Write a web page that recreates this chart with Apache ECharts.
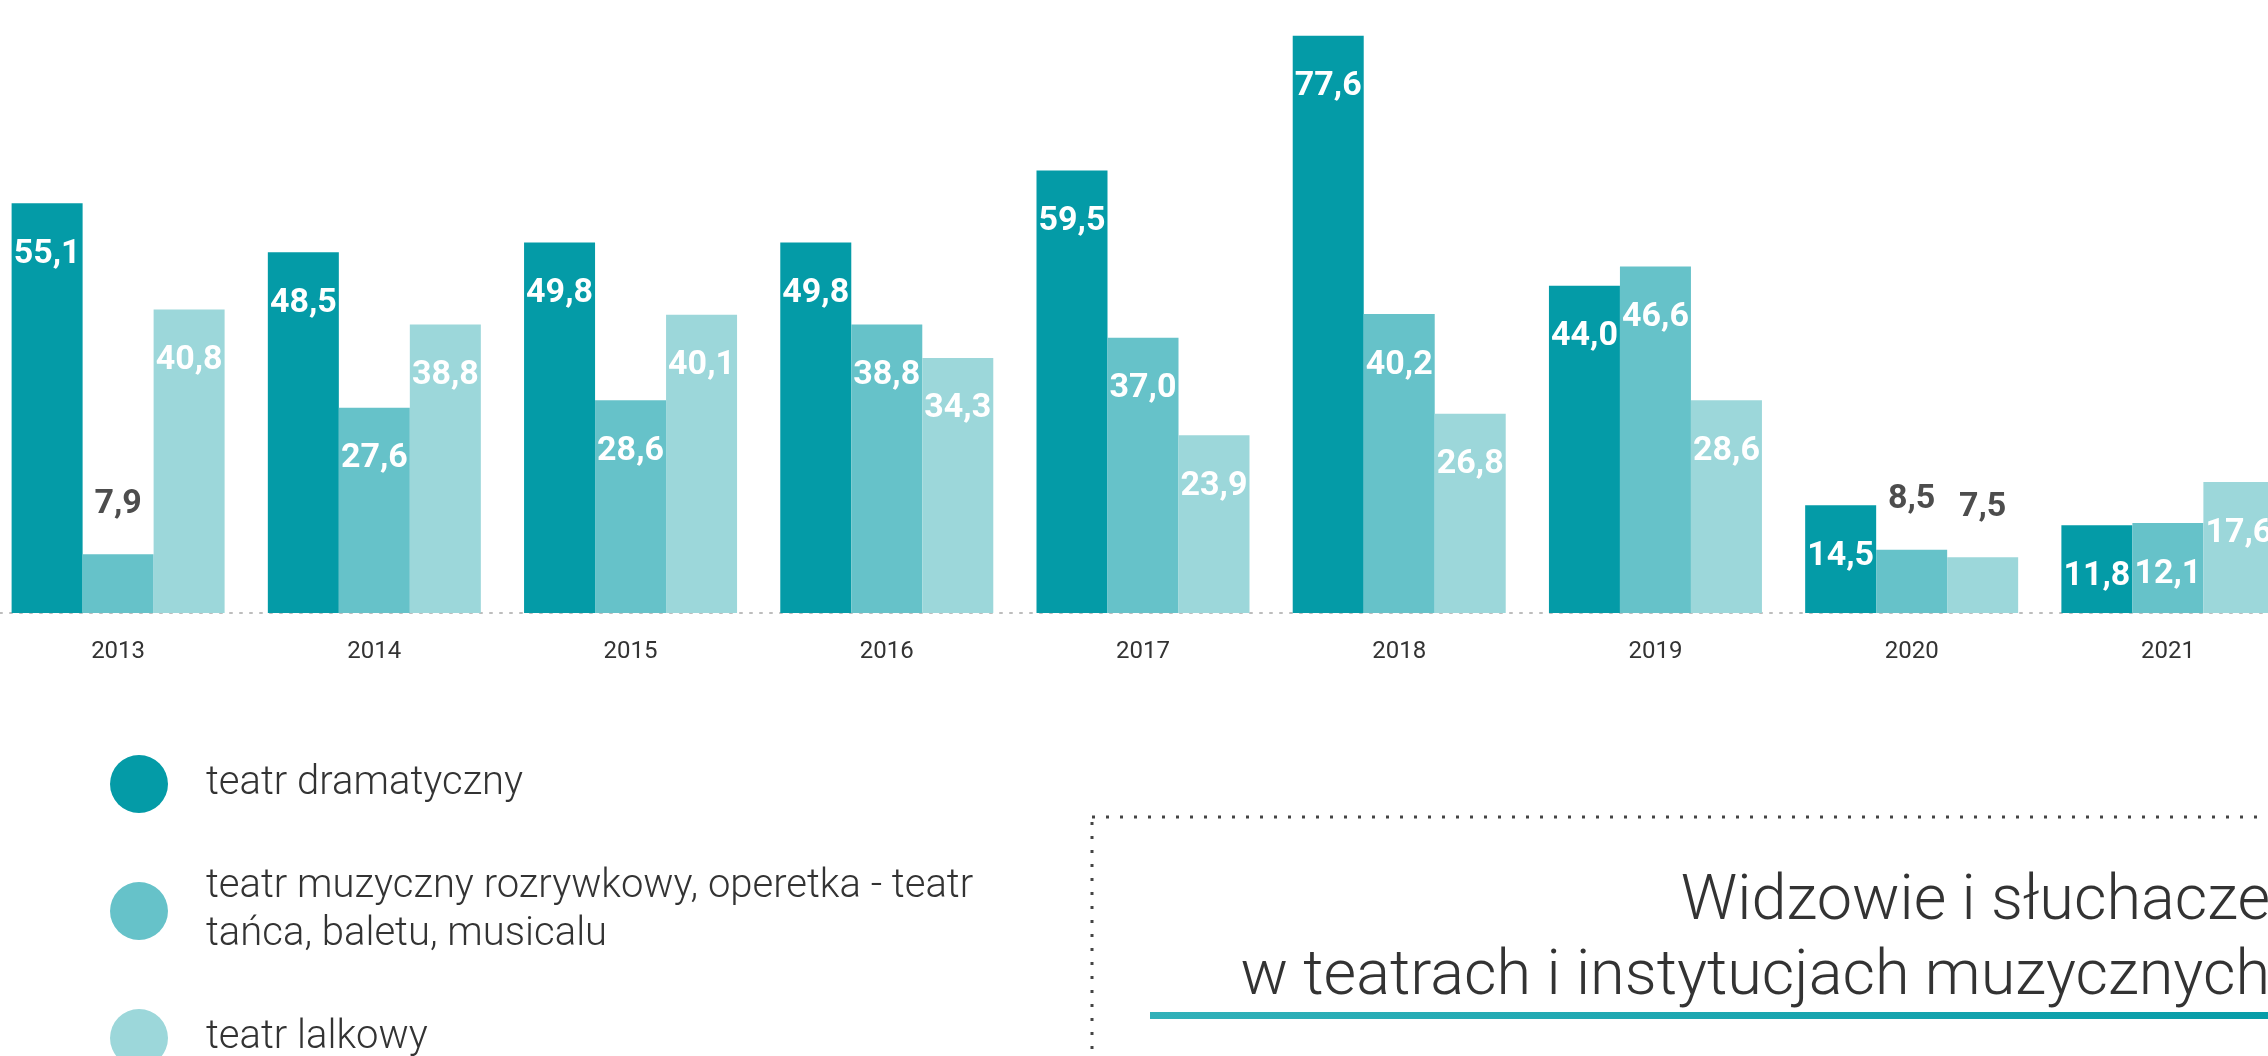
<!DOCTYPE html>
<html>
<head>
<meta charset="utf-8">
<script src="https://cdn.jsdelivr.net/npm/echarts@6/dist/echarts.min.js"></script>
<style>
  html, body { margin: 0; padding: 0; background: #fff; }
  #main { width: 2268px; height: 1056px; }
</style>
</head>
<body>
<div id="main"></div>
<script>
var years = ['2013', '2014', '2015', '2016', '2017', '2018', '2019', '2020', '2021'];
var seriesNames = [
  'teatr dramatyczny',
  'teatr muzyczny rozrywkowy, operetka - teatr tańca, baletu, musicalu',
  'teatr lalkowy'
];
// legend text as it is wrapped in the picture
var legendText = [
  'teatr dramatyczny',
  'teatr muzyczny rozrywkowy, operetka - teatr\ntańca, baletu, musicalu',
  'teatr lalkowy'
];
var dramatyczny = [55.1, 48.5, 49.8, 49.8, 59.5, 77.6, 44.0, 14.5, 11.8];
var muzyczny = [7.9, 27.6, 28.6, 38.8, 37.0, 40.2, 46.6, 8.5, 12.1];
var lalkowy = [40.8, 38.8, 40.1, 34.3, 23.9, 26.8, 28.6, 7.5, 17.6];
var titleLines = ['Widzowie i słuchacze', 'w teatrach i instytucjach muzycznych'];

var colors = ['#049ba7', '#66c2c9', '#9cd7da'];
var font = 'Roboto';

var dom = document.getElementById('main');
var myChart = echarts.init(dom);

function fmt(v) {
  return v.toFixed(1).replace('.', ',');
}

// small bars get the label above, in dark grey
function barData(values) {
  return values.map(function (v) {
    if (v < 10) {
      return {
        value: v,
        label: { position: 'top', distance: 33, color: '#4d4d4d' }
      };
    }
    return v;
  });
}

function makeSeries(name, values) {
  return {
    name: name,
    type: 'bar',
    barWidth: 71,
    barGap: '0%',
    data: barData(values),
    label: {
      show: true,
      position: 'insideTop',
      distance: 34,
      color: '#fff',
      fontFamily: font,
      fontWeight: 'bold',
      fontSize: 34,
      formatter: function (p) { return fmt(p.value); }
    }
  };
}

function makeLegend(i, top) {
  return {
    data: [seriesNames[i]],
    left: 105,
    top: top,
    icon: 'circle',
    itemWidth: 58,
    itemHeight: 58,
    selectedMode: false,
    formatter: function () { return legendText[i]; },
    textStyle: {
      fontFamily: font,
      fontWeight: 300,
      fontSize: 40,
      lineHeight: 48,
      color: '#333',
      padding: [0, 0, 0, 33]
    }
  };
}

option = {
  animation: false,
  color: colors,
  grid: {
    left: -10,
    top: 18,
    width: 2306,
    height: 595,
    outerBoundsMode: 'none',
    containLabel: false
  },
  legend: [
    makeLegend(0, 750),
    makeLegend(1, 858),
    makeLegend(2, 1004)
  ],
  xAxis: {
    type: 'category',
    data: years,
    axisTick: { show: false },
    axisLine: {
      lineStyle: { color: '#bdbdbd', width: 2, type: [2, 8] }
    },
    axisLabel: {
      margin: 27,
      color: '#333',
      fontFamily: font,
      fontSize: 24
    }
  },
  yAxis: {
    type: 'value',
    min: 0,
    max: 80,
    show: false,
    splitLine: { show: false }
  },
  graphic: [
    {
      type: 'rect',
      shape: { x: 1092, y: 817, width: 2000, height: 1000 },
      style: { fill: 'none', stroke: '#444', lineWidth: 3, lineDash: [3, 11] },
      silent: true
    },
    {
      type: 'text',
      x: 2270,
      y: 941,
      style: {
        text: titleLines.join('\n'),
        textAlign: 'right',
        textVerticalAlign: 'middle',
        fontFamily: font,
        fontWeight: 300,
        fontSize: 63,
        lineHeight: 75,
        fill: '#333'
      },
      silent: true
    },
    {
      type: 'rect',
      shape: { x: 1150, y: 1012, width: 1200, height: 7 },
      style: {
        fill: new echarts.graphic.LinearGradient(0, 0, 1, 0, [
          { offset: 0, color: '#31b1b9' },
          { offset: 1, color: '#049ba7' }
        ])
      },
      silent: true
    }
  ],
  series: [
    makeSeries(seriesNames[0], dramatyczny),
    makeSeries(seriesNames[1], muzyczny),
    makeSeries(seriesNames[2], lalkowy)
  ]
};
myChart.setOption(option);
</script>
</body>
</html>
